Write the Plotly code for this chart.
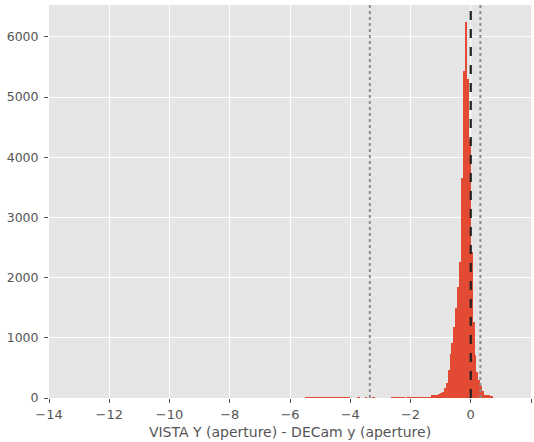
import numpy as np
import plotly.graph_objects as go

# Histogram bins: uniform width, left edge of first bin and bin width
bin_start = -5.5
bin_width = 0.0625
# Counts per bin (100 bins from -5.5 to 0.75)
counts = [
    12, 12, 11, 12, 10, 12, 12, 11, 12, 12,   # 0-9
    12, 5, 8, 12, 12, 11, 12, 12, 10, 12,     # 10-19
    12, 11, 12, 12, 0, 0, 0, 0, 6, 0,         # 20-29
    0, 0, 5, 0, 5, 0, 6, 0, 0, 0,             # 30-39
    0, 0, 0, 0, 0, 0, 8, 8, 7, 8,             # 40-49
    8, 8, 6, 0, 5, 5, 8, 8, 8, 8,             # 50-59
    9, 9, 9, 10, 10, 10, 12, 50, 50, 52,      # 60-69
    55, 70, 90, 100, 166, 250, 465, 730, 913, 1185,   # 70-79
    1500, 1850, 2265, 3650, 5440, 6240, 5300, 4300, 2430, 1266,  # 80-89
    714, 437, 300, 200, 121, 55, 50, 45, 40, 25,  # 90-99
]
centers = [bin_start + bin_width * (i + 0.5) for i in range(len(counts))]

# Reference lines (x values)
dashed_lines = [0.0]
dotted_lines = [-3.35, 0.32]

x_ticks = list(range(-14, 3, 2))
x_ticktext = [str(v).replace("-", "\u2212") for v in x_ticks]
y_ticks = list(range(0, 7000, 1000))

fig = go.Figure()
fig.add_trace(go.Bar(
    x=centers, y=counts, width=bin_width,
    marker=dict(color="#E24A33", line=dict(width=0)),
    showlegend=False,
))

shapes = []
for v in dotted_lines:
    shapes.append(dict(type="line", xref="x", yref="paper", x0=v, x1=v, y0=0, y1=1,
                       line=dict(color="#8c8c8c", width=2, dash="dot")))
for v in dashed_lines:
    shapes.append(dict(type="line", xref="x", yref="paper", x0=v, x1=v, y0=0, y1=1,
                       line=dict(color="#222222", width=2.2, dash="dash")))

fig.update_layout(
    width=534, height=442,
    margin=dict(l=49, r=3, t=5, b=44, autoexpand=False),
    paper_bgcolor="white",
    plot_bgcolor="#E5E5E5",
    font=dict(family="DejaVu Sans", color="#555555", size=12),
    bargap=0,
    shapes=shapes,
    xaxis=dict(
        range=[-14, 2], tickvals=x_ticks, ticktext=x_ticktext,
        showgrid=True, gridcolor="white", gridwidth=1, zeroline=False,
        ticks="outside", ticklen=4, tickcolor="#555555",
        tickfont=dict(size=13, color="#555555"),
        title=dict(text="VISTA Y (aperture) - DECam y (aperture)", font=dict(size=14, color="#555555"), standoff=6),
        showline=False, automargin=False,
    ),
    yaxis=dict(
        range=[0, 6530], tickvals=y_ticks,
        showgrid=True, gridcolor="white", gridwidth=1, zeroline=False,
        ticks="outside", ticklen=4, tickcolor="#555555",
        tickfont=dict(size=12.5, color="#555555"),
        ticklabelstandoff=3,
        showline=False, automargin=False,
    ),
)
fig.write_html("out.html", config={"displayModeBar": False},
               post_script="document.body.style.margin='0';document.body.style.padding='0';")
